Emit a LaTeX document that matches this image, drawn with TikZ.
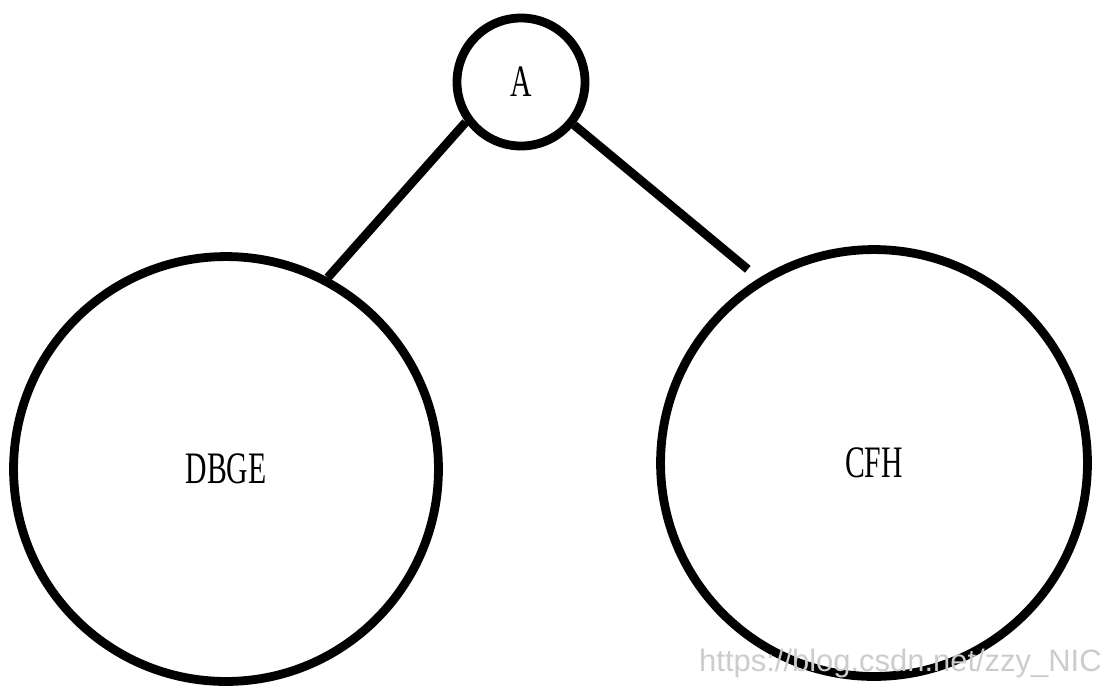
\documentclass[tikz,border=0pt]{standalone}
\usepackage{fontspec}
\newfontfamily\treefont[FakeStretch=0.66]{Liberation Serif}
\newfontfamily\markfont{Liberation Sans}
\usetikzlibrary{calc}

\begin{document}
\begin{tikzpicture}[x=0.025cm, y=-0.025cm, line width=0.22cm,
  set/.style={draw, circle, inner sep=0pt, font=\treefont\fontsize{32}{32}\selectfont}]
\useasboundingbox (0,0) rectangle (1108,687);
% root
\node[set, minimum size=3.2cm] (A) at (521,82) {A};
% the two subtrees
\node[set, minimum size=10.62cm] (DBGE) at (226,469) {DBGE};
\node[set, minimum size=10.67cm] (CFH) at (874,463) {CFH};
% edges
\draw (A.216) -- (DBGE.62);
\draw[shorten >=0.35cm] (A.321) -- (CFH.122);
% watermark
\node[anchor=south east, inner sep=0pt, text=gray!40,
  font=\markfont\fontsize{22}{22}\selectfont] (mark) at (1106,682) {https://blog.csdn.net/zzy\_NIC};
\end{tikzpicture}
\end{document}
